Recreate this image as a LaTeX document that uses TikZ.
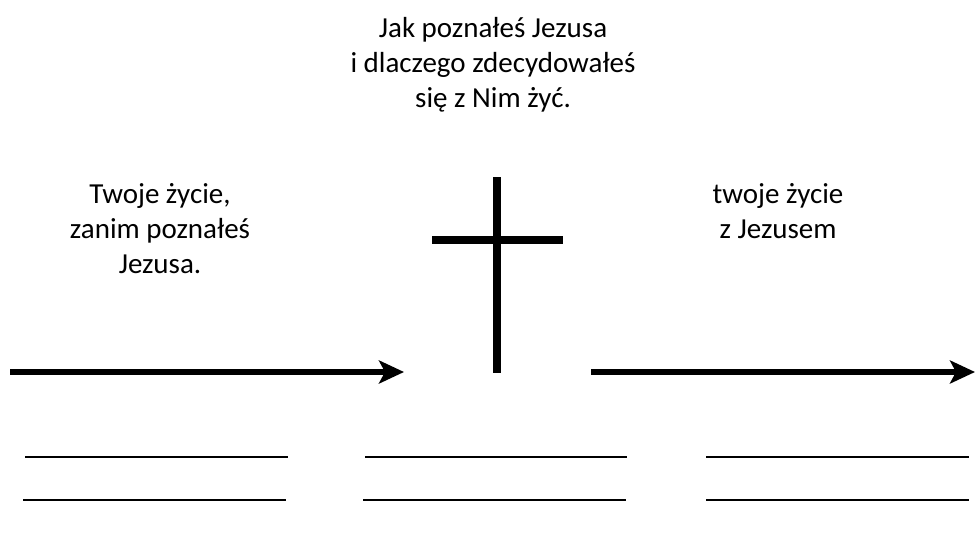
\documentclass[tikz,border=0pt]{standalone}
\usepackage{fontspec}
\setmainfont{Carlito}
\usetikzlibrary{arrows.meta}
\begin{document}
\begin{tikzpicture}[x=1pt,y=-1pt,
  lbl/.style={anchor=base,font=\fontsize{29}{35}\selectfont,inner sep=0pt},
  bigarrow/.style={line width=6pt,-{Stealth[length=25pt,width=23pt,inset=6pt]}},
  crossbar/.style={line width=7.5pt},
  blank/.style={line width=2.5pt}]
\useasboundingbox (0,0) rectangle (975,544);
% texts
\node[lbl] (top1) at (493,37) {Jak poznałeś Jezusa};
\node[lbl] (top2) at (493,72) {i dlaczego zdecydowałeś};
\node[lbl] (top3) at (493,107) {się z Nim żyć.};
\node[lbl] (left1) at (160,203) {Twoje życie,};
\node[lbl] (left2) at (160,238) {zanim poznałeś};
\node[lbl] (left3) at (160,273) {Jezusa.};
\node[lbl] (right1) at (778,203) {twoje życie};
\node[lbl] (right2) at (778,238) {z Jezusem};
% cross
\coordinate (ct) at (497,177);
\coordinate (cb) at (497,373);
\coordinate (cl) at (432,240);
\coordinate (cr) at (563,240);
\draw[crossbar] (ct) -- (cb);
\draw[crossbar] (cl) -- (cr);
% arrows
\coordinate (a1s) at (10,372);
\coordinate (a1e) at (404,372);
\coordinate (a2s) at (591,372);
\coordinate (a2e) at (975,372);
\draw[bigarrow] (a1s) -- (a1e);
\draw[bigarrow] (a2s) -- (a2e);
% blank lines
\coordinate (l1a) at (25,457); \coordinate (l1b) at (288,457);
\coordinate (l2a) at (365,457); \coordinate (l2b) at (627,457);
\coordinate (l3a) at (706,457); \coordinate (l3b) at (969,457);
\coordinate (m1a) at (23,500); \coordinate (m1b) at (286,500);
\coordinate (m2a) at (363,500); \coordinate (m2b) at (626,500);
\coordinate (m3a) at (706,500); \coordinate (m3b) at (969,500);
\draw[blank] (l1a) -- (l1b);
\draw[blank] (l2a) -- (l2b);
\draw[blank] (l3a) -- (l3b);
\draw[blank] (m1a) -- (m1b);
\draw[blank] (m2a) -- (m2b);
\draw[blank] (m3a) -- (m3b);
\end{tikzpicture}
\end{document}
